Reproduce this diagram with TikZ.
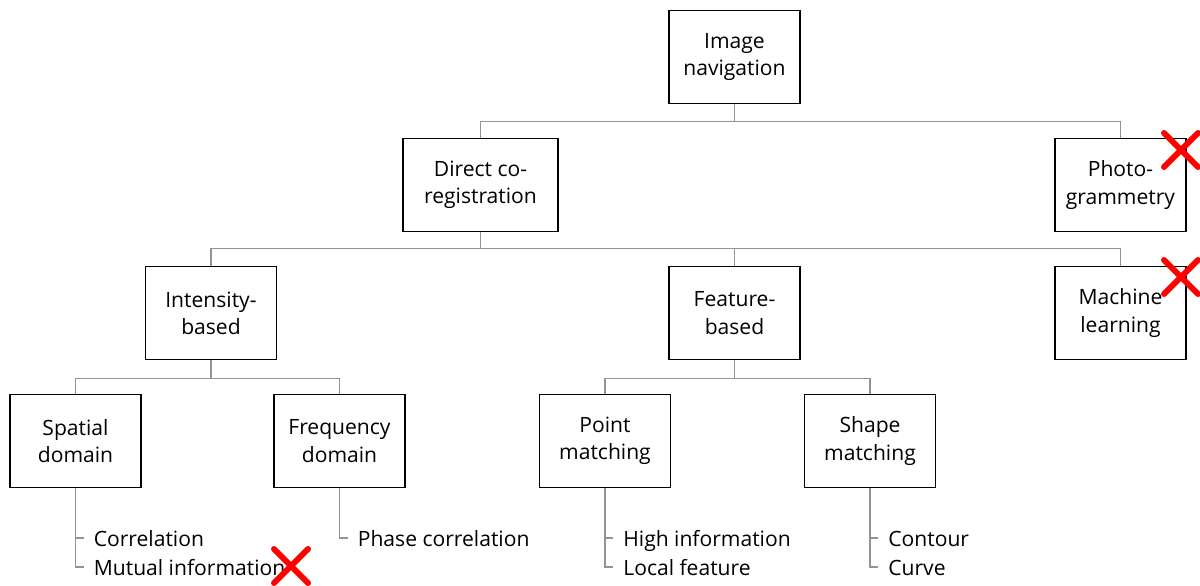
\documentclass[tikz,border=0pt]{standalone}
\usepackage{fontspec}
\setmainfont{Open Sans}
\usepackage{tikz}
\usetikzlibrary{positioning}
\usepackage{xcolor}

\begin{document}
\begin{tikzpicture}[x=0.02cm, y=-0.02cm,
    box/.style={draw, line width=1.1pt, rectangle, align=center, minimum width=2.62cm, minimum height=1.86cm, font=\fontsize{12}{15.5}\selectfont},
    conn/.style={draw=gray!85, line width=0.75pt},
    leaf/.style={anchor=west, inner xsep=0.2cm, inner ysep=0pt, text height=1.9ex, text depth=0.1ex, font=\fontsize{12}{15.5}\selectfont},
    nope/.style={draw=red, line width=3.4pt, line cap=round}]
    \useasboundingbox (0,0) rectangle (1200,585);

    % Top layer
    \node[box] (nav) at (734.5,57) {Image\\navigation};

    % Second layer
    \node[box, minimum width=3.1cm] (direct) at (480.5,185) {Direct co-\\registration};
    \node[box] (photo) at (1120.5,185) {Photo-\\grammetry};

    % Third layer
    \node[box] (intensity) at (211,313) {Intensity-\\based};
    \node[box] (feature) at (734.5,313) {Feature-\\based};
    \node[box] (machine) at (1120.5,313) {Machine\\learning};

    % Bottom layer
    \node[box] (spatial) at (75.5,441) {Spatial\\domain};
    \node[box] (frequency) at (339.5,441) {Frequency\\domain};
    \node[box] (point) at (605,441) {Point\\matching};
    \node[box] (shape) at (870,441) {Shape\\matching};

    % Methods
    \node[leaf] (corr) at (83.5,538) {Correlation};
    \node[leaf] (mutual) at (83.5,567) {Mutual information};
    \node[leaf] (phase) at (347.5,538) {Phase correlation};
    \node[leaf] (high) at (613,538) {High information};
    \node[leaf] (local) at (613,567) {Local feature};
    \node[leaf] (contour) at (878,538) {Contour};
    \node[leaf] (curve) at (878,567) {Curve};

    % Connections
    \foreach \c in {direct,photo} {
        \draw[conn] (nav.south) -- ++(0,17) -| (\c.north);
    }
    \foreach \c in {intensity,feature,machine} {
        \draw[conn] (direct.south) -- ++(0,16) -| (\c.north);
    }
    \foreach \c in {spatial,frequency} {
        \draw[conn] (intensity.south) -- ++(0,18) -| (\c.north);
    }
    \foreach \c in {point,shape} {
        \draw[conn] (feature.south) -- ++(0,18) -| (\c.north);
    }
    \draw[conn] (spatial.south) |- (corr.west);
    \draw[conn] (spatial.south) |- (mutual.west);
    \draw[conn] (frequency.south) |- (phase.west);
    \draw[conn] (point.south) |- (high.west);
    \draw[conn] (point.south) |- (local.west);
    \draw[conn] (shape.south) |- (contour.west);
    \draw[conn] (shape.south) |- (curve.west);

    % Excluded
    \coordinate (xphoto) at (1181,150);
    \coordinate (xmachine) at (1181,277);
    \coordinate (xmutual) at (291,566);
    \foreach \p in {xphoto,xmachine,xmutual} {
        \draw[nope] (\p) ++(-17,-17) -- ++(34,34);
        \draw[nope] (\p) ++(-17,17) -- ++(34,-34);
    }
\end{tikzpicture}
\end{document}
